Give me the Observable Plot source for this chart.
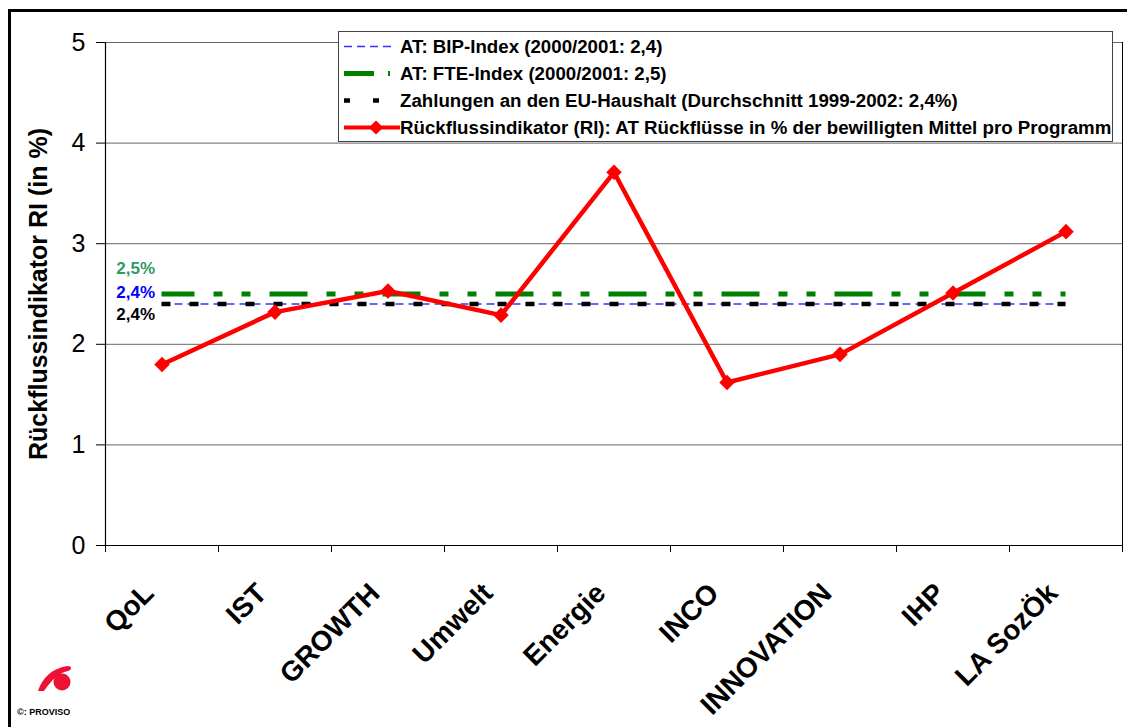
<!DOCTYPE html>
<html><head><meta charset="utf-8">
<script src="https://cdn.jsdelivr.net/npm/d3@7"></script>
<script src="https://cdn.jsdelivr.net/npm/@observablehq/plot@0.6"></script>
<style>
body{margin:0;background:#fff;font-family:"Liberation Sans",Arial,sans-serif;}
#wrap{position:relative;width:1127px;height:727px;overflow:hidden;background:#fff;}
#frame{position:absolute;left:8px;top:9px;width:1200px;height:800px;border-top:3px solid #000;border-left:3px solid #000;pointer-events:none;}
#legend{position:absolute;left:338px;top:31px;width:775px;height:111px;background:#fff;border:1px solid #444;box-sizing:border-box;padding-top:1px;}
.row{position:relative;height:27px;display:flex;align-items:center;}
.row svg{position:absolute;left:3px;top:0;}
.row span{position:absolute;left:61px;font-weight:bold;font-size:18.7px;white-space:nowrap;color:#000;}
#logo{position:absolute;left:30px;top:660px;}
#copy{position:absolute;left:17px;top:707px;font-size:9px;font-weight:bold;}
</style></head><body><div id="wrap"><div id="chart"></div><div id="frame"></div><div id="legend"></div>
<svg id="logo" width="50" height="35" viewBox="0 0 50 35"><path d="M8,31 C12,18 22,8 38,6 C42,6 42,10 38,11 C28,13 22,20 14,31 Z" fill="#ee1133"/><circle cx="32" cy="22" r="8.5" fill="#ee1133"/></svg>
<div id="copy">©: PROVISO</div></div>
<script>
const categories = ["QoL","IST","GROWTH","Umwelt","Energie","INCO","INNOVATION","IHP","LA SozÖk"];
const riValues = [1.80, 2.32, 2.53, 2.29, 3.71, 1.62, 1.90, 2.51, 3.12];
const bipIndex = 2.4;
const fteIndex = 2.5;
const euPayments = 2.4;
const yTicks = [0, 1, 2, 3, 4, 5];
const gridValues = [1, 2, 3, 4, 5];
const refLabels = ["2,5%", "2,4%", "2,4%"];
const refLabelValues = [2.5, 2.4, 2.4];
const refLabelColors = ["#339966", "#0000ff", "#000000"];
const legendLabels = [
  "AT: BIP-Index (2000/2001: 2,4)",
  "AT: FTE-Index (2000/2001: 2,5)",
  "Zahlungen an den EU-Haushalt (Durchschnitt 1999-2002: 2,4%)",
  "Rückflussindikator (RI): AT Rückflüsse in % der bewilligten Mittel pro Programm"
];
const yTitle = "Rückflussindikator RI (in %)";

const n = categories.length;
const data = categories.map((c, i) => ({pos: i + 0.5, cat: c, ri: riValues[i]}));
const centers = categories.map((c, i) => i + 0.5);
const first = 0.5, last = n - 0.5;
const labelDy = [-25, -12, 10];
const labelMarks = refLabels.map((t, i) =>
  Plot.text([{t, v: refLabelValues[i]}], {x: () => first, y: "v", text: "t", fill: refLabelColors[i],
    textAnchor: "end", dx: -7, dy: labelDy[i], fontSize: 17, fontWeight: "bold"}));

const chart = Plot.plot({
  width: 1127, height: 727,
  marginLeft: 105, marginRight: 5, marginTop: 42, marginBottom: 182,
  style: {fontFamily: '"Liberation Sans", Arial, sans-serif', background: "transparent", color: "#000"},
  x: {type: "linear", domain: [0, n]},
  y: {domain: [0, 5]},
  marks: [
    Plot.ruleY(gridValues, {stroke: "#666", strokeWidth: 1}),
    Plot.ruleX([n], {stroke: "#000", strokeWidth: 1}),
    Plot.axisY({ticks: yTicks, tickFormat: "d", tickSize: 9, tickPadding: 11, fontSize: 25, label: null, stroke: "#000"}),
    Plot.axisX({ticks: d3.range(n + 1), tickSize: 7, tickFormat: () => "", label: null, stroke: "#000"}),
    Plot.axisX({ticks: centers, tickSize: 0, tickRotate: -45, tickPadding: 43, dx: -13,
      tickFormat: v => categories[Math.round(v - 0.5)], fontSize: 28, fontWeight: "bold", label: null}),
    Plot.ruleX([0], {stroke: "#000", strokeWidth: 1.2}),
    Plot.ruleY([0], {stroke: "#000", strokeWidth: 1.2}),
    Plot.ruleY([bipIndex], {x1: first, x2: last, stroke: "#3333ff", strokeWidth: 1.5, strokeDasharray: "8,5"}),
    Plot.ruleY([euPayments], {x1: first, x2: last, stroke: "#000", strokeWidth: 4.5, strokeDasharray: "9,19"}),
    Plot.ruleY([fteIndex], {x1: first, x2: last, stroke: "#008000", strokeWidth: 5, strokeDasharray: "38,19,9,19,9,19", strokeDashoffset: 5}),
    Plot.line(data, {x: "pos", y: "ri", stroke: "#ff0000", strokeWidth: 4.5, strokeLinejoin: "miter"}),
    Plot.dot(data, {x: "pos", y: "ri", symbol: "diamond2", r: 7, fill: "#ff0000", stroke: "none"}),
    ...labelMarks,
    Plot.text([yTitle], {frameAnchor: "left", textAnchor: "middle", dx: -67, rotate: -90, fontSize: 25, fontWeight: "bold"})
  ]
});
document.getElementById("chart").appendChild(chart);

// Legend
const symbols = [
  '<line x1="2" x2="50" y1="13.5" y2="13.5" stroke="#3333ff" stroke-width="1.5" stroke-dasharray="8,5"/>',
  '<line x1="2" x2="32" y1="13.5" y2="13.5" stroke="#008000" stroke-width="5"/><line x1="46" x2="48" y1="13.5" y2="13.5" stroke="#008000" stroke-width="5"/>',
  '<line x1="2" x2="8" y1="13.5" y2="13.5" stroke="#000" stroke-width="4.5"/><line x1="31" x2="37" y1="13.5" y2="13.5" stroke="#000" stroke-width="4.5"/>',
  '<line x1="2" x2="58" y1="13.5" y2="13.5" stroke="#ff0000" stroke-width="4"/><path d="M34,6.5 L41,13.5 L34,20.5 L27,13.5 Z" fill="#ff0000"/>'
];
const leg = document.getElementById("legend");
legendLabels.forEach((t, i) => {
  const row = document.createElement("div");
  row.className = "row";
  row.innerHTML = `<svg width="60" height="27">${symbols[i]}</svg><span>${t}</span>`;
  leg.appendChild(row);
});
</script></body></html>
